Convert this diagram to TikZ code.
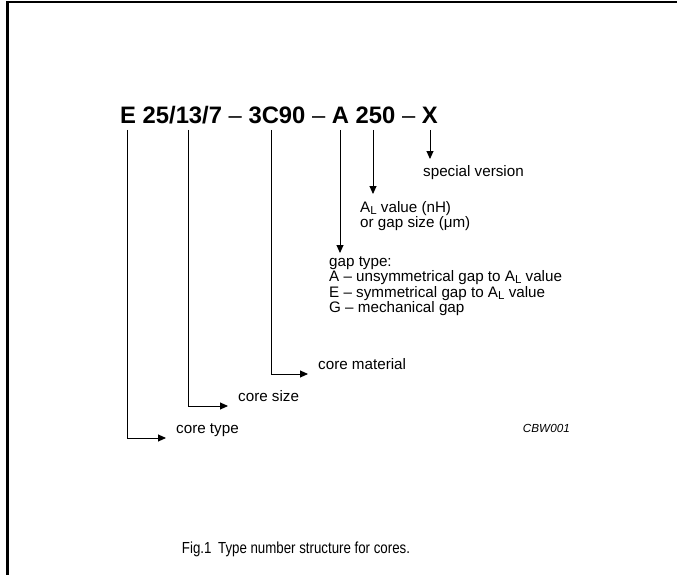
\documentclass[tikz,border=0pt]{standalone}
\usepackage{fontspec}
\setmainfont{Liberation Sans}
\usetikzlibrary{arrows.meta}
\newcommand{\ALsub}{A\raisebox{-0.28ex}{\fontsize{11.5}{11.5}\selectfont L}}
\begin{document}
\begin{tikzpicture}[x=1pt,y=1pt,
  frame/.style={line width=2.4pt},
  arr/.style={line width=0.9pt,-{Triangle[length=8pt,width=7pt]}},
  lbl/.style={inner sep=0pt,font=\fontsize{15.2}{15.6}\selectfont},
  blk/.style={lbl,align=left},
  title/.style={inner sep=0pt,font=\fontsize{23.8}{28}\selectfont\bfseries}]
\useasboundingbox (0,0) rectangle (677,-575);
% frame
\draw[frame] (7.5,-575) -- (7.5,-2.2) -- (677,-2.2);
% title
\node[title,anchor=base west] (ttl) at (120,-124) {E 25/13/7 {\mdseries –} 3C90 {\mdseries –} A 250 {\mdseries –} X};
% line tops
\coordinate (tE) at (127,-130);
\coordinate (tS) at (188,-130);
\coordinate (tM) at (271,-130);
\coordinate (tA) at (340,-130);
\coordinate (tV) at (373,-130);
\coordinate (tX) at (430,-130);
% tips of vertical arrows
\coordinate (hX) at (430,-159);
\coordinate (hV) at (373,-194);
\coordinate (hA) at (340,-253);
% labels
\node[lbl,anchor=base west] (sv) at (423,-176) {special version};
\node[blk,anchor=north west] (al) at (360,-201) {\ALsub{} value (nH)\\or gap size (μm)};
\node[blk,anchor=north west] (gt) at (329,-256) {gap type:\\A – unsymmetrical gap to \ALsub{} value\\E – symmetrical gap to \ALsub{} value\\G – mechanical gap};
\node[lbl,anchor=base west] (cm) at (318,-369) {core material};
\node[lbl,anchor=base west] (cs) at (238,-401) {core size};
\node[lbl,anchor=base west] (ct) at (176,-433) {core type};
\node[inner sep=0pt,anchor=base east,font=\fontsize{11.7}{12}\selectfont\itshape] (cbw) at (570,-432) {CBW001};
\node[inner sep=0pt,anchor=base] (cap) at (296,-553) {\scalebox{0.83}[1]{\fontsize{16}{18}\selectfont Fig.1\enspace Type number structure for cores.}};
% connectors
\draw[arr] (tX) -- (hX);
\draw[arr] (tV) -- (hV);
\draw[arr] (tA) -- (hA);
\draw[arr,shorten >=10pt] (tM) |- ([yshift=-5pt]cm.base west);
\draw[arr,shorten >=10pt] (tS) |- ([yshift=-5pt]cs.base west);
\draw[arr,shorten >=10pt] (tE) |- ([yshift=-5pt]ct.base west);
\end{tikzpicture}
\end{document}
